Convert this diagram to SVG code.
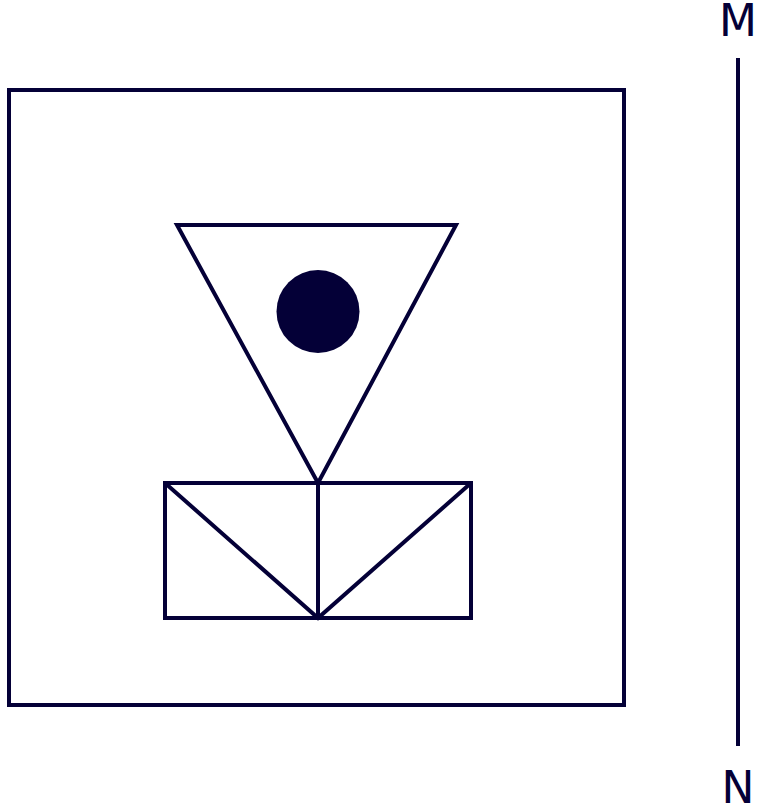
<svg xmlns="http://www.w3.org/2000/svg" width="759" height="810" viewBox="0 0 759 810">
<style>
.s{fill:none;stroke:#040037;stroke-width:4}
.t{font-family:"DejaVu Sans",sans-serif;font-size:44px;fill:#040037;text-anchor:middle}
</style>
<rect width="759" height="810" fill="#fff"/>
<g id="frame"><rect class="s" x="9" y="90" width="615" height="615"/></g>
<g id="triangle"><polygon class="s" points="177,225 456,225 318,483"/></g>
<g id="dot"><circle cx="318" cy="311.5" r="41.5" fill="#040037"/></g>
<g id="box">
<rect class="s" x="165" y="483" width="306" height="135"/>
<path class="s" d="M165,483 L318,618 L471,483 M318,483 L318,618"/>
</g>
<g id="axis">
<line class="s" x1="738" y1="58" x2="738" y2="746"/>
<text class="t" x="738" y="36">M</text>
<text class="t" x="738" y="803">N</text>
</g>
</svg>
